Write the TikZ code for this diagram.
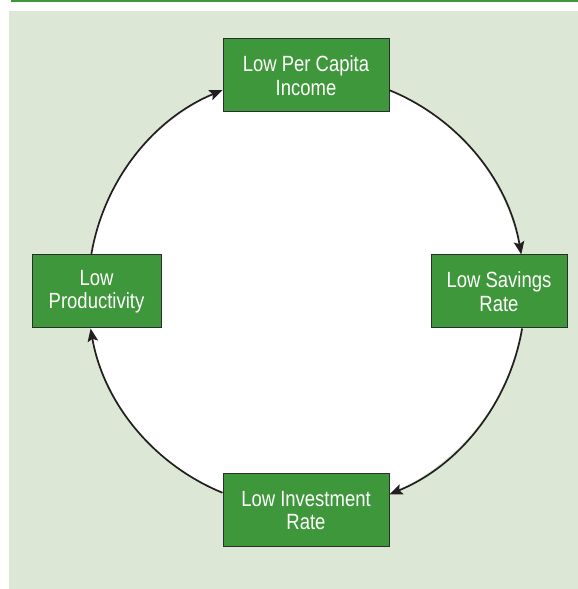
\documentclass[tikz,border=0pt]{standalone}
\usepackage{fontspec}
\usetikzlibrary{arrows.meta}
\newfontfamily\boxfont[FakeStretch=0.84]{Liberation Sans}
\definecolor{boxgreen}{HTML}{3F973B}
\definecolor{panelgreen}{HTML}{DCE8D5}
\definecolor{edgegray}{HTML}{2D2D2D}
\definecolor{arcblack}{HTML}{231F20}

\begin{document}
\begin{tikzpicture}[x=1pt,y=1pt,
  cause/.style={draw=edgegray,line width=1pt,fill=boxgreen,text=white,align=center,
    inner sep=0pt,minimum height=73pt,font=\boxfont\fontsize{22}{23.5}\selectfont},
  link/.style={draw=arcblack,line width=1.7pt,-{Stealth[length=13pt,width=10.5pt,inset=2.5pt]}}]
\useasboundingbox (0,0) rectangle (578,589);
\fill[panelgreen] (9,0) rectangle (578,578);
\fill[boxgreen] (11,586.5) rectangle (578,589);
\def \r{218}
\coordinate (o) at (306,297);
\fill[white] (o) circle[radius=\r];

\node[cause,minimum width=166pt] (income) at (306,513.5) {Low Per Capita\\Income};
\node[cause,minimum width=136pt] (savings) at (499,297.5) {Low Savings\\Rate};
\node[cause,minimum width=166pt] (invest) at (306,78.5) {Low Investment\\Rate};
\node[cause,minimum width=129pt] (product) at (96.5,297.5) {Low\\Productivity};

\foreach \s/\t/\sa/\ta in {income/savings/-10.2/59.2, savings/invest/-58.9/11.5,
  invest/product/168.5/261.4, product/income/98.3/190.2}{
\draw[link] (\s.\sa) to[bend left=29,looseness=0.91] (\t.\ta);
}

\end{tikzpicture}
\end{document}
